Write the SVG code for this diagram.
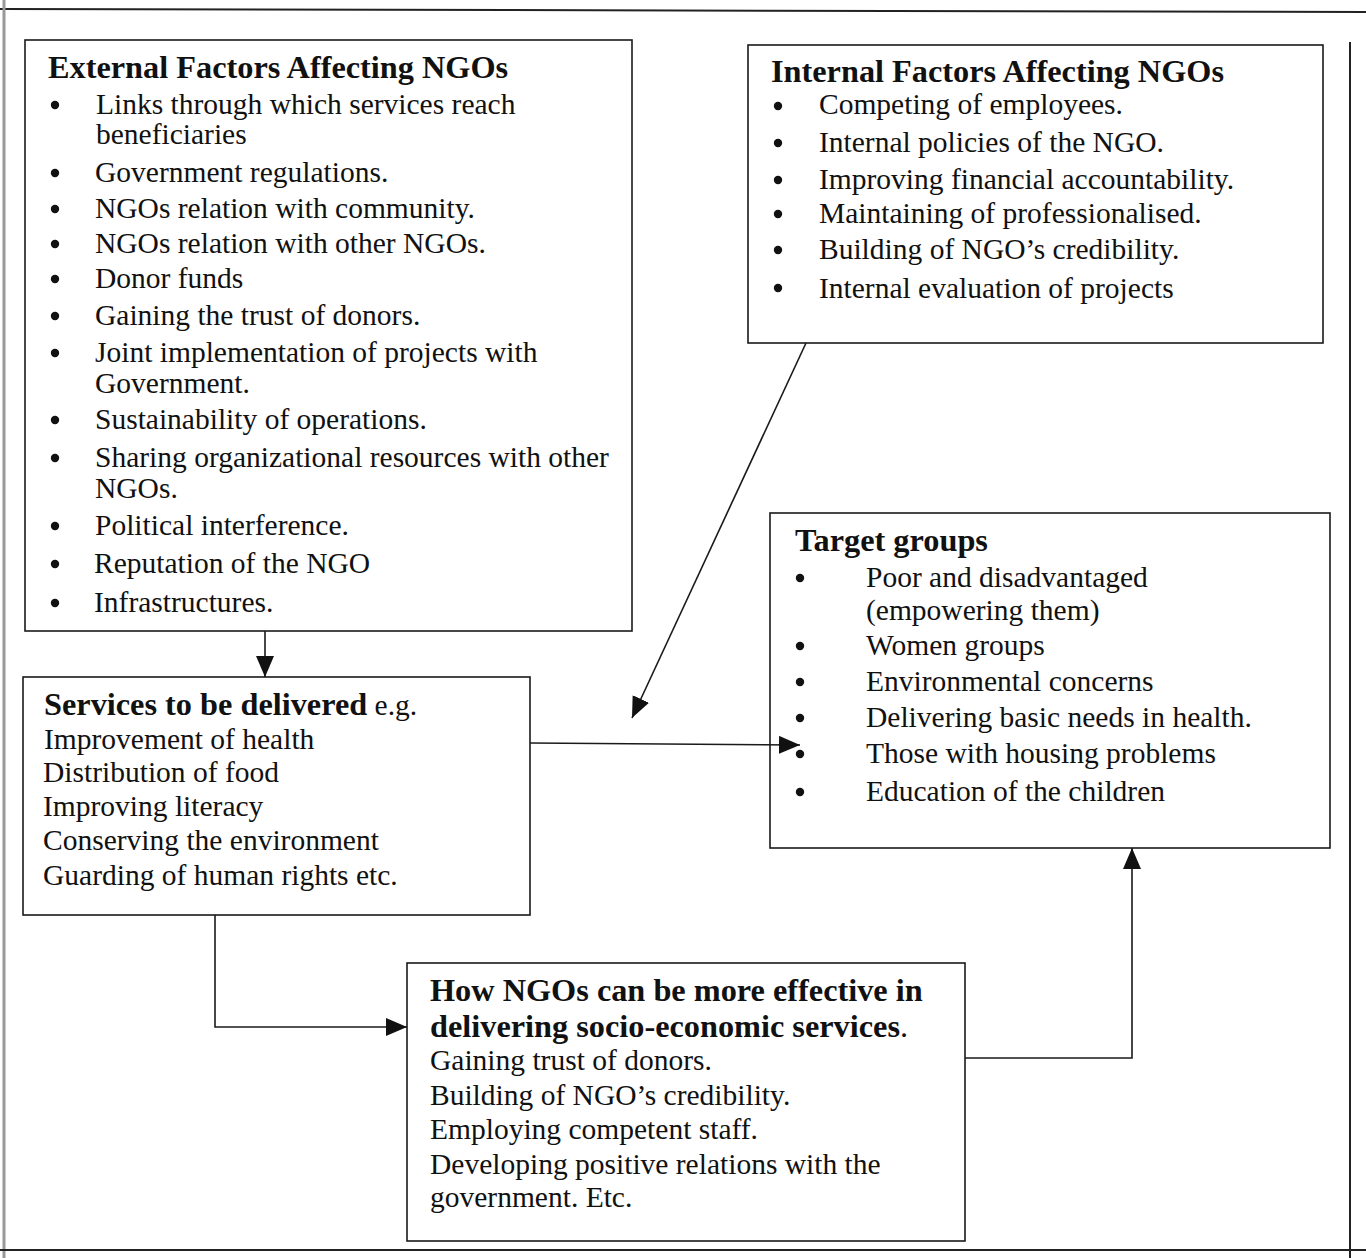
<svg xmlns="http://www.w3.org/2000/svg" width="1366" height="1258" viewBox="0 0 1366 1258">
<style>
.box{fill:#fff;stroke:#1a1a1a;stroke-width:1.6}
.frame{fill:none;stroke:#222;stroke-width:2}
.t{font-family:"Liberation Serif","Times New Roman",serif;font-size:29.5px;fill:#111}
.h{font-family:"Liberation Serif","Times New Roman",serif;font-size:32.3px;font-weight:bold;fill:#111}
.b{fill:#111}
.c{fill:none;stroke:#1a1a1a;stroke-width:1.6}
</style>
<defs>
<marker id="ah" markerUnits="userSpaceOnUse" markerWidth="24" markerHeight="20" refX="21" refY="9" orient="auto">
<path d="M0,0 L21,9 L0,18 z" fill="#111"/>
</marker>
</defs>
<rect width="1366" height="1258" fill="#fff"/>
<g id="frame">
<line class="frame" x1="0" y1="9" x2="1366" y2="12"/>
<line x1="4" y1="0" x2="4" y2="1258" stroke="#999" stroke-width="3"/>
<line class="frame" x1="1350" y1="42" x2="1350" y2="1258"/>
<line class="frame" x1="0" y1="1250" x2="1366" y2="1250"/>
</g>
<g id="external">
<rect class="box" x="25" y="40" width="607" height="591"/>
<text class="h" x="48" y="78">External Factors Affecting NGOs</text>
<g class="b">
<circle cx="55" cy="105" r="4.2"/><circle cx="55" cy="173" r="4.2"/><circle cx="55" cy="209" r="4.2"/><circle cx="55" cy="244" r="4.2"/><circle cx="55" cy="279" r="4.2"/><circle cx="55" cy="316" r="4.2"/><circle cx="55" cy="353" r="4.2"/><circle cx="55" cy="420" r="4.2"/><circle cx="55" cy="458" r="4.2"/><circle cx="55" cy="526" r="4.2"/><circle cx="55" cy="564" r="4.2"/><circle cx="55" cy="603" r="4.2"/>
</g>
<text class="t" x="96" y="114">Links through which services reach</text>
<text class="t" x="96" y="144">beneficiaries</text>
<text class="t" x="95" y="182">Government regulations.</text>
<text class="t" x="95" y="218">NGOs relation with community.</text>
<text class="t" x="95" y="253">NGOs relation with other NGOs.</text>
<text class="t" x="95" y="288">Donor funds</text>
<text class="t" x="95" y="325">Gaining the trust of donors.</text>
<text class="t" x="95" y="362">Joint implementation of projects with</text>
<text class="t" x="95" y="393">Government.</text>
<text class="t" x="95" y="429">Sustainability of operations.</text>
<text class="t" x="95" y="467">Sharing organizational resources with other</text>
<text class="t" x="95" y="498">NGOs.</text>
<text class="t" x="95" y="535">Political interference.</text>
<text class="t" x="94" y="573">Reputation of the NGO</text>
<text class="t" x="94" y="612">Infrastructures.</text>
</g>
<g id="internal">
<rect class="box" x="748" y="45" width="575" height="298"/>
<text class="h" x="771" y="82">Internal Factors Affecting NGOs</text>
<g class="b">
<circle cx="778" cy="106" r="4.2"/><circle cx="778" cy="143" r="4.2"/><circle cx="778" cy="180" r="4.2"/><circle cx="778" cy="214" r="4.2"/><circle cx="778" cy="250" r="4.2"/><circle cx="778" cy="288" r="4.2"/>
</g>
<text class="t" x="819" y="114">Competing of employees.</text>
<text class="t" x="819" y="152">Internal policies of the NGO.</text>
<text class="t" x="819" y="189">Improving financial accountability.</text>
<text class="t" x="819" y="223">Maintaining of professionalised.</text>
<text class="t" x="819" y="259">Building of NGO’s credibility.</text>
<text class="t" x="819" y="298">Internal evaluation of projects</text>
</g>
<g id="target">
<rect class="box" x="770" y="513" width="560" height="335"/>
<text class="h" x="795" y="551">Target groups</text>
<g class="b">
<circle cx="800" cy="578" r="4.2"/><circle cx="800" cy="646" r="4.2"/><circle cx="800" cy="682" r="4.2"/><circle cx="800" cy="718" r="4.2"/><circle cx="800" cy="754" r="4.2"/><circle cx="800" cy="792" r="4.2"/>
</g>
<text class="t" x="866" y="587">Poor and disadvantaged</text>
<text class="t" x="866" y="620">(empowering them)</text>
<text class="t" x="866" y="655">Women groups</text>
<text class="t" x="866" y="691">Environmental concerns</text>
<text class="t" x="866" y="727">Delivering basic needs in health.</text>
<text class="t" x="866" y="763">Those with housing problems</text>
<text class="t" x="866" y="801">Education of the children</text>
</g>
<g id="services">
<rect class="box" x="23" y="677" width="507" height="238"/>
<text class="t" x="44" y="715"><tspan class="h">Services to be delivered</tspan> e.g.</text>
<text class="t" x="44" y="749">Improvement of health</text>
<text class="t" x="43" y="782">Distribution of food</text>
<text class="t" x="43" y="816">Improving literacy</text>
<text class="t" x="43" y="850">Conserving the environment</text>
<text class="t" x="43" y="885">Guarding of human rights etc.</text>
</g>
<g id="effective">
<rect class="box" x="407" y="963" width="558" height="278"/>
<text class="h" x="430" y="1001">How NGOs can be more effective in</text>
<text class="h" x="430" y="1037">delivering socio-economic services<tspan font-weight="normal">.</tspan></text>
<text class="t" x="430" y="1070">Gaining trust of donors.</text>
<text class="t" x="430" y="1105">Building of NGO’s credibility.</text>
<text class="t" x="430" y="1139">Employing competent staff.</text>
<text class="t" x="430" y="1174">Developing positive relations with the</text>
<text class="t" x="430" y="1207">government. Etc.</text>
</g>
<g id="connectors">
<line class="c" x1="265" y1="631" x2="265" y2="677" marker-end="url(#ah)"/>
<line class="c" x1="806" y1="343" x2="632" y2="718" marker-end="url(#ah)"/>
<line class="c" x1="530" y1="743" x2="800" y2="745" marker-end="url(#ah)"/>
<polyline class="c" points="215,915 215,1027 407,1027" marker-end="url(#ah)"/>
<polyline class="c" points="965,1058 1132,1058 1132,848" marker-end="url(#ah)"/>
</g>
</svg>
